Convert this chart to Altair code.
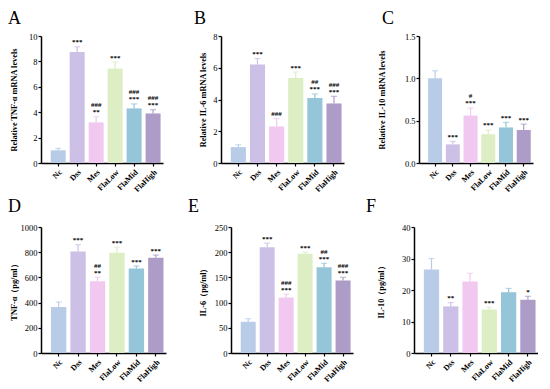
import altair as alt
import pandas as pd

groups = ["Nc", "Dss", "Mes", "FlaLow", "FlaMid", "FlaHigh"]
colors = ["#b8cce8", "#cdc0e6", "#f0c8f0", "#ddedc4", "#94c5d8", "#ad9cc8"]

a_vals = [1.0, 8.75, 3.2, 7.45, 4.3, 3.9]
a_errs = [0.15, 0.4, 0.45, 0.5, 0.35, 0.3]
a_stars = ["", "***", "**", "***", "***", "***"]
a_hash = ["", "", "###", "", "###", "###"]

b_vals = [1.0, 6.2, 2.3, 5.35, 4.1, 3.75]
b_errs = [0.15, 0.38, 0.5, 0.38, 0.25, 0.45]
b_stars = ["", "***", "", "***", "***", "***"]
b_hash = ["", "", "###", "", "##", "###"]

c_vals = [1.0, 0.22, 0.56, 0.34, 0.42, 0.39]
c_errs = [0.09, 0.035, 0.09, 0.05, 0.06, 0.07]
c_stars = ["", "***", "***", "***", "***", "***"]
c_hash = ["", "", "#", "", "", ""]

d_vals = [365, 805, 570, 795, 670, 755]
d_errs = [40, 55, 32, 45, 20, 22]
d_stars = ["", "***", "**", "***", "***", "***"]
d_hash = ["", "", "##", "", "", ""]

e_vals = [62, 210, 110, 197, 170, 144]
e_errs = [6, 8, 7, 3, 8, 6]
e_stars = ["", "***", "***", "***", "***", "***"]
e_hash = ["", "", "###", "", "##", "###"]

f_vals = [26.5, 14.8, 22.7, 13.8, 19.3, 16.9]
f_errs = [3.5, 1.2, 2.6, 0.7, 1.2, 1.1]
f_stars = ["", "**", "", "***", "", "*"]
f_hash = ["", "", "", "", "", ""]

SERIF = "Liberation Serif"


def panel(letter, vals, errs, stars, hashes, ymax, step, fmt, ytitle, w, h,
          title_x, letter_x, letter_y):
    top = [v + e for v, e in zip(vals, errs)]
    low = [s if s else hh for s, hh in zip(stars, hashes)]
    high = [hh if s else "" for s, hh in zip(stars, hashes)]
    df = pd.DataFrame({"g": groups, "v": vals, "top": top, "low": low, "high": high})
    ticks = []
    t = 0.0
    while t <= ymax + 1e-9:
        ticks.append(round(t, 4))
        t += step
    xax = alt.Axis(title=None, labelAngle=-45, labelFont=SERIF, labelFontWeight="bold",
                   labelFontSize=8, labelColor="black", tickColor="black",
                   tickSize=3, tickWidth=1.2, domainColor="black", domainWidth=1.5,
                   labelPadding=2)
    xsc = alt.Scale(paddingInner=0.21, paddingOuter=0.32, align=0.8)
    yax = alt.Axis(values=ticks, format=fmt, title=ytitle, titleFont=SERIF,
                   titleFontWeight="bold", titleFontSize=8.3, titleColor="black",
                   titleX=title_x, labelFont=SERIF, labelFontSize=8.5,
                   labelColor="black", tickColor="black", tickSize=3, tickWidth=1.2,
                   domainColor="black", domainWidth=1.5, labelPadding=1, grid=False,
                   labelOverlap=False, tickCount=len(ticks))
    ysc = alt.Scale(domain=[0, ymax], nice=False)

    def X():
        return alt.X("g:N", sort=groups, scale=xsc, axis=xax)

    def Y(f):
        return alt.Y(f, scale=ysc, axis=yax)

    color = alt.Color("g:N", scale=alt.Scale(domain=groups, range=colors), legend=None)
    base = alt.Chart(df)
    bars = base.mark_bar().encode(x=X(), y=Y("v:Q"), color=color)
    rule = base.mark_rule(strokeWidth=1.2).encode(x=X(), y=Y("v:Q"), y2="top:Q", color=color)
    cap = base.mark_tick(thickness=1.2, size=6, orient="horizontal").encode(
        x=X(), y=Y("top:Q"), color=color)
    t1 = base.mark_text(font=SERIF, fontWeight="bold", fontSize=7, baseline="bottom", dy=-1.5,
                        color="black").encode(x=X(), y=Y("top:Q"), text="low:N")
    t2 = base.mark_text(font=SERIF, fontWeight="bold", fontSize=7, baseline="bottom", dy=-8.5,
                        color="black").encode(x=X(), y=Y("top:Q"), text="high:N")
    lab = alt.Chart(pd.DataFrame({"t": [letter]})).mark_text(
        font=SERIF, fontSize=18, align="left", baseline="alphabetic", color="black").encode(
        x=alt.value(letter_x), y=alt.value(letter_y), text="t:N")
    return alt.layer(bars, rule, cap, t1, t2, lab).properties(width=w, height=h)


pa = panel("A", a_vals, a_errs, a_stars, a_hash, 10, 2, "d", "Relative TNF-α mRNA  levels",
           122, 127, -22.5, -33, -12)
pb = panel("B", b_vals, b_errs, b_stars, b_hash, 8, 2, "d", "Relative IL-6 mRNA  levels",
           123, 127, -13.5, -27, -12)
pc = panel("C", c_vals, c_errs, c_stars, c_hash, 1.5, 0.5, ".1f", "Relative IL-10 mRNA  levels",
           114, 127, -32.5, -37, -12)
pd_ = panel("D", d_vals, d_errs, d_stars, d_hash, 1000, 200, "d", "TNF-α（pg/ml）",
            125, 126, -22.5, -33, -15)
pe = panel("E", e_vals, e_errs, e_stars, e_hash, 250, 50, "d", "IL-6（pg/ml）",
           122, 126, -24, -43, -15)
pf = panel("F", f_vals, f_errs, f_stars, f_hash, 40, 10, "d", "IL-10（pg/ml）",
           124, 126, -28.5, -48, -15)

row1 = alt.hconcat(pa, alt.hconcat(pb, pc, spacing=33), spacing=31)
row2 = alt.hconcat(pd_, alt.hconcat(pe, pf, spacing=13), spacing=22)
chart = alt.vconcat(row1, row2, spacing=4).properties(
    padding={"left": 0, "top": 2, "right": 0, "bottom": 0}).configure_view(stroke=None)

chart.save("out.html", embed_options={"renderer": "svg", "actions": False})
